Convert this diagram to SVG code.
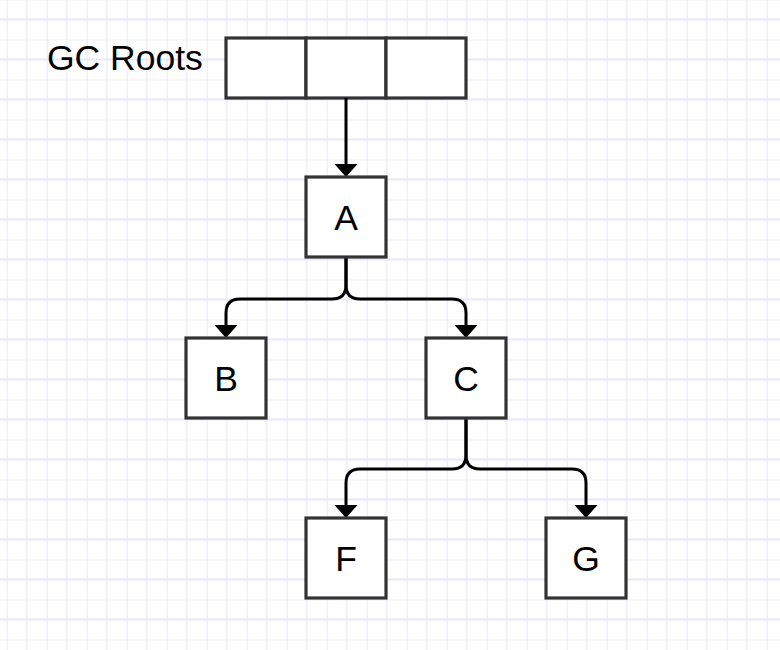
<svg xmlns="http://www.w3.org/2000/svg" width="780" height="650" viewBox="0 0 780 650">
<defs>
<pattern id="grid" patternUnits="userSpaceOnUse" x="6.7" y="-0.5" width="40" height="40">
<path d="M20,0 V40 M0,0 H40" stroke="#f1f0ff" stroke-width="2" fill="none"/>
<path d="M0,0 V40 M0,20 H40" stroke="#e9e7fd" stroke-width="2" fill="none"/>
</pattern>
<marker id="arr" markerUnits="userSpaceOnUse" viewBox="0 0 13 24" refX="0" refY="12" markerWidth="13" markerHeight="24" orient="auto">
<path d="M0,0.5 L13,12 L0,23.5 Z" fill="#000"/>
</marker>
<style>
.box{fill:#fff;stroke:#333;stroke-width:3.2}
.lbl{font-family:"Liberation Sans",Arial,sans-serif;font-size:35.5px;fill:#000;text-anchor:middle}
.edge{fill:none;stroke:#000;stroke-width:3;marker-end:url(#arr)}
</style>
</defs>
<rect width="780" height="650" fill="#fff"/>
<rect width="780" height="650" fill="url(#grid)"/>
<g id="gcroots">
<text x="47" y="70" font-family="Liberation Sans, Arial, sans-serif" font-size="35.5" fill="#000">GC Roots</text>
<rect class="box" x="226" y="38" width="80" height="60"/>
<rect class="box" x="306" y="38" width="80" height="60"/>
<rect class="box" x="386" y="38" width="80" height="60"/>
</g>
<g id="connectors">
<path class="edge" d="M346,98 V164"/>
<path class="edge" d="M346,257 V285 Q346,299 332,299 H240 Q226,299 226,313 V325"/>
<path class="edge" d="M346,257 V285 Q346,299 360,299 H452 Q466,299 466,313 V325"/>
<path class="edge" d="M466,418 V455 Q466,469 452,469 H360 Q346,469 346,483 V505"/>
<path class="edge" d="M466,418 V455 Q466,469 480,469 H572 Q586,469 586,483 V505"/>
</g>
<g id="nodeA"><rect class="box" x="306" y="177" width="80" height="80"/><text class="lbl" x="346" y="230">A</text></g>
<g id="nodeB"><rect class="box" x="186" y="338" width="80" height="80"/><text class="lbl" x="226" y="391">B</text></g>
<g id="nodeC"><rect class="box" x="426" y="338" width="80" height="80"/><text class="lbl" x="466" y="391">C</text></g>
<g id="nodeF"><rect class="box" x="306" y="518" width="80" height="80"/><text class="lbl" x="346" y="571">F</text></g>
<g id="nodeG"><rect class="box" x="546" y="518" width="80" height="80"/><text class="lbl" x="586" y="571">G</text></g>
</svg>
